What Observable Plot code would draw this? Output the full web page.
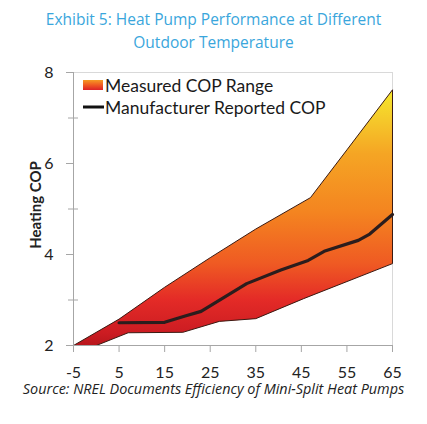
<!DOCTYPE html>
<html><head><meta charset="utf-8">
<script src="https://cdn.jsdelivr.net/npm/d3@7"></script>
<script src="https://cdn.jsdelivr.net/npm/@observablehq/plot@0.6"></script>
<style>
body{margin:0;background:#fff;width:427px}
#title{font-family:"Open Sans";font-size:15.5px;color:#3aa6dc;text-align:center;line-height:23px;padding-top:8px;height:46px;white-space:nowrap}
#chart svg{display:block}
#cap{font-family:"Open Sans";font-style:italic;font-size:14.4px;text-align:center;line-height:18px;color:#222;white-space:nowrap}
</style></head><body>
<div id="title">Exhibit 5: Heat Pump Performance at Different<br>Outdoor Temperature</div>
<div id="chart"></div>
<div id="cap">Source: NREL Documents Efficiency of Mini-Split Heat Pumps</div>
<script>
// Measured COP range: upper and lower boundaries (outdoor temp °F, COP)
const upperTemp = [-5, 5, 15, 25, 35, 47, 55, 65];
const upperCOP  = [2.0, 2.58, 3.28, 3.93, 4.56, 5.25, 6.3, 7.62];
const lowerTemp = [-5, 0, 7, 19, 27, 35, 45.5, 65];
const lowerCOP  = [2.0, 2.0, 2.28, 2.29, 2.53, 2.59, 3.03, 3.8];
// Manufacturer reported COP
const mfrTemp = [5, 15, 19.5, 23, 33, 40.5, 46.5, 50, 57.5, 60, 65];
const mfrCOP  = [2.5, 2.51, 2.65, 2.75, 3.36, 3.66, 3.87, 4.07, 4.31, 4.45, 4.88];
// Axes
const xTicks = [-5, 5, 15, 25, 35, 45, 55, 65];
const yTicks = [2, 4, 6, 8];
const yMinorTicks = [3, 5, 7];
const xDomain = [-5, 65];
const yDomain = [2, 8];
const legendLabels = ["Measured COP Range", "Manufacturer Reported COP"];

const band = upperTemp.map((t, i) => ({t, cop: upperCOP[i]}))
  .concat(lowerTemp.map((t, i) => ({t, cop: lowerCOP[i]})).reverse());
const mfr = mfrTemp.map((t, i) => ({t, cop: mfrCOP[i]}));

function defs() {
  const d = d3.create("svg:defs");
  const g = d.append("linearGradient").attr("id", "bandGrad")
    .attr("x1", 0).attr("y1", 0).attr("x2", 0).attr("y2", 1);
  [[0, "#f6e82c"], [0.12, "#f5c82a"], [0.25, "#f5a524"], [0.48, "#f48420"],
   [0.68, "#ef5a23"], [0.82, "#e42b27"], [0.95, "#cc1c22"], [1, "#b8161c"]]
    .forEach(([o, c]) => g.append("stop").attr("offset", o).attr("stop-color", c));
  const s = d.append("linearGradient").attr("id", "swGrad")
    .attr("x1", 0).attr("y1", 0).attr("x2", 0).attr("y2", 1);
  [[0, "#f59a24"], [0.5, "#f05a22"], [1, "#dc2228"]]
    .forEach(([o, c]) => s.append("stop").attr("offset", o).attr("stop-color", c));
  return d.node();
}

const fmt = d => String(d);

const chart = Plot.plot({
  width: 427, height: 326,
  marginTop: 18, marginLeft: 73, marginRight: 35, marginBottom: 35,
  style: {fontFamily: "Lato", fontSize: "15px", color: "#222", background: "#fff"},
  x: {domain: xDomain},
  y: {domain: yDomain},
  marks: [
    defs,
    Plot.frame({stroke: "#d9d9d9"}),
    Plot.line(band, {x: "t", y: "cop", fill: "url(#bandGrad)", stroke: "#3b1a12", strokeWidth: 1}),
    Plot.line(mfr, {x: "t", y: "cop", stroke: "#2b1d1d", strokeWidth: 3.2}),
    Plot.ruleX([xDomain[0]], {stroke: "#a6a6a6"}),
    Plot.ruleY([yDomain[0]], {stroke: "#a6a6a6"}),
    Plot.axisX({ticks: xTicks, tickSize: 7, tickPadding: 14, tickFormat: fmt, label: null, stroke: "#a6a6a6", fontSize: 16}),
    Plot.axisY({ticks: yTicks, tickSize: 7, tickPadding: 13, tickFormat: fmt, label: null, stroke: "#a6a6a6", fontSize: 16}),
    Plot.axisY({ticks: yMinorTicks, tickSize: 10, dx: 5, tickFormat: () => "", label: null, stroke: "#a6a6a6"})
  ]
});

const svg = d3.select(chart);
svg.append("text").attr("transform", "translate(35,151) rotate(-90)")
  .attr("text-anchor", "middle").attr("dominant-baseline", "central")
  .attr("font-family", "Lato").attr("font-weight", "bold").attr("font-size", 15)
  .attr("fill", "#222").text("Heating COP");
const lg = svg.append("g").attr("font-family", "Lato").attr("font-size", 17.5)
  .attr("fill", "#1a1a1a").attr("text-anchor", "start");
lg.append("rect").attr("x", 83).attr("y", 26).attr("width", 20).attr("height", 10).attr("fill", "url(#swGrad)");
lg.append("text").attr("x", 105).attr("y", 31).attr("dominant-baseline", "central").text(legendLabels[0]);
lg.append("line").attr("x1", 83).attr("x2", 104).attr("y1", 53).attr("y2", 53)
  .attr("stroke", "#111").attr("stroke-width", 3);
lg.append("text").attr("x", 105).attr("y", 53).attr("dominant-baseline", "central").text(legendLabels[1]);

document.getElementById("chart").appendChild(chart);
</script>
</body></html>
